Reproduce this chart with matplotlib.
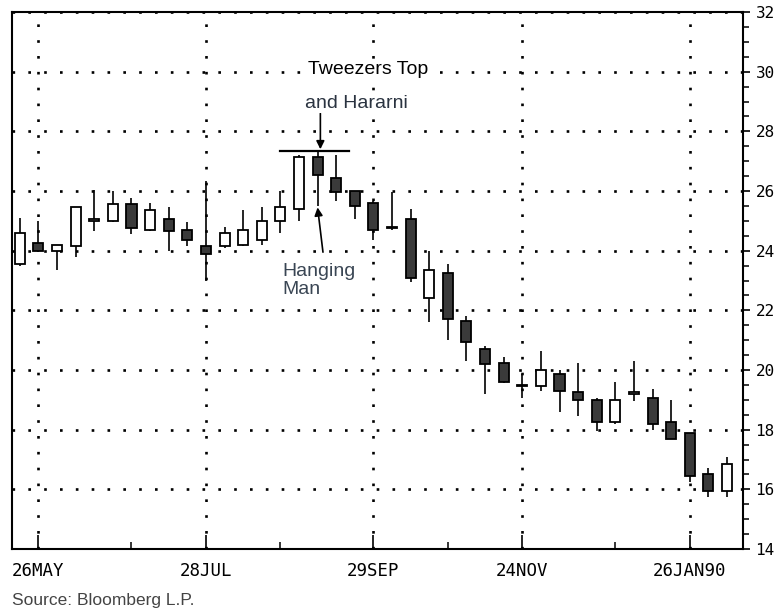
import matplotlib
matplotlib.use('Agg')
import matplotlib.pyplot as plt
import matplotlib.dates as mdates
from matplotlib.patches import Rectangle
from matplotlib.ticker import MultipleLocator
import pandas as pd

# ---- data (weekly candles, week ending Friday) ----
first_week = '1989-05-19'
opens  = [23.55, 24.25, 24.00, 24.15, 25.00, 25.00, 25.55, 24.70, 25.05, 24.70,
          24.15, 24.15, 24.20, 24.35, 25.00, 25.40, 27.15, 26.45, 26.00, 25.60,
          24.80, 25.05, 22.40, 23.25, 21.65, 20.70, 20.25, 19.50, 19.45, 19.85,
          19.25, 19.00, 18.25, 19.20, 19.05, 18.25, 17.90, 16.50, 15.95]
highs  = [25.10, 25.00, 24.20, 25.45, 26.05, 26.00, 25.75, 25.60, 25.45, 24.95,
          26.35, 24.80, 25.35, 25.45, 26.00, 27.20, 27.35, 27.20, 26.00, 25.65,
          25.95, 25.40, 24.00, 23.55, 21.80, 20.80, 20.45, 19.85, 20.65, 20.00,
          20.25, 19.05, 19.60, 20.30, 19.35, 19.00, 17.90, 16.70, 17.10]
lows   = [23.50, 23.95, 23.35, 23.80, 24.65, 24.95, 24.55, 24.65, 24.00, 24.15,
          23.00, 24.10, 24.15, 24.20, 24.60, 25.00, 25.50, 25.65, 25.05, 24.35,
          24.70, 22.95, 21.60, 21.00, 20.30, 19.20, 19.55, 19.05, 19.30, 18.60,
          18.45, 17.95, 18.20, 18.95, 18.00, 17.70, 16.25, 15.75, 15.75]
closes = [24.60, 24.00, 24.20, 25.45, 25.05, 25.55, 24.75, 25.35, 24.65, 24.35,
          23.90, 24.60, 24.70, 25.00, 25.45, 27.15, 26.55, 25.95, 25.50, 24.70,
          24.75, 23.10, 23.35, 21.70, 20.95, 20.20, 19.60, 19.45, 20.00, 19.30,
          19.00, 18.25, 19.00, 19.25, 18.20, 17.70, 16.45, 15.95, 16.85]

major_tick_dates  = ['1989-05-26', '1989-07-28', '1989-09-29', '1989-11-24', '1990-01-26']
major_tick_labels = ['26MAY', '28JUL', '29SEP', '24NOV', '26JAN90']
minor_tick_dates  = ['1989-06-30', '1989-08-25', '1989-10-27', '1989-12-29']
y_ticks = [14, 16, 18, 20, 22, 24, 26, 28, 30, 32]

dates = pd.date_range(first_week, periods=len(opens), freq='7D')
xs = mdates.date2num(dates)
x0 = xs[0]
wk = 7.0

W, H = 778, 612
fig = plt.figure(figsize=(W / 100, H / 100), dpi=100)
ax = fig.add_axes([12 / W, 1 - 549 / H, (743 - 12) / W, (549 - 12) / H])

ax.set_xlim(x0 - 0.42 * wk, x0 + 38.86 * wk)
ax.set_ylim(14, 32)

# grid
dot = (0, (1, 5))
ax.set_xticks(mdates.date2num(pd.to_datetime(major_tick_dates)))
ax.set_xticklabels(major_tick_labels)
ax.set_xticks(mdates.date2num(pd.to_datetime(minor_tick_dates)), minor=True)
ax.set_yticks(y_ticks)
ax.yaxis.set_minor_locator(MultipleLocator(0.5))
ax.grid(which='major', linestyle=dot, linewidth=1.9, color='black', zorder=1)
ax.set_axisbelow(True)

ax.yaxis.tick_right()
ax.tick_params(axis='y', which='major', direction='out', length=5, width=1.2,
               pad=4, labelsize=11.5, left=False, right=True)
ax.tick_params(axis='y', which='minor', direction='out', length=4, width=1.1,
               left=False, right=True)
ax.tick_params(axis='x', which='major', direction='in', length=10, width=1.2,
               pad=9, labelsize=12.5)
ax.tick_params(axis='x', which='minor', direction='in', length=5, width=1.1)
for lab in ax.get_xticklabels() + ax.get_yticklabels():
    lab.set_family('DejaVu Sans Mono')
for s in ax.spines.values():
    s.set_linewidth(1.5)

# candles
body_w = 0.54 * wk
ax.vlines(xs, lows, highs, color='black', linewidth=1.2, zorder=3)
for xi, o, c in zip(xs, opens, closes):
    lo = min(o, c)
    h = max(abs(c - o), 0.05)
    up = c >= o
    ax.add_patch(Rectangle((xi - body_w / 2, lo), body_w, h,
                           facecolor='white' if up else '#3a3a3a',
                           edgecolor='black', linewidth=1.3, zorder=4))

# annotations
ax.plot([x0 + 14.0 * wk, x0 + 17.7 * wk], [27.35, 27.35], color='black',
        linewidth=1.6, zorder=5)
ax.annotate('', xy=(x0 + 16.15 * wk, 27.4), xytext=(x0 + 16.15 * wk, 28.6),
            arrowprops=dict(arrowstyle='-|>', color='black', lw=1.2,
                            mutation_scale=12, shrinkA=0, shrinkB=0), zorder=6)
ax.annotate('', xy=(x0 + 16.0 * wk, 25.45), xytext=(x0 + 16.29 * wk, 23.95),
            arrowprops=dict(arrowstyle='-|>', color='black', lw=1.2,
                            mutation_scale=12, shrinkA=0, shrinkB=0), zorder=6)

bb = dict(facecolor='white', edgecolor='none', pad=1)
fig.text(308 / W, 1 - 70 / H, 'Tweezers Top', fontsize=14, family='Liberation Sans',
         ha='left', va='center', color='black', bbox=bb)
fig.text(305 / W, 1 - 103 / H, 'and Hararni', fontsize=14, family='Liberation Sans',
         ha='left', va='center', color='#2a3340', bbox=bb)
fig.text(282 / W, 1 - 272 / H, 'Hanging', fontsize=14, family='Liberation Sans',
         ha='left', va='center', color='#3a4654')
fig.text(282 / W, 1 - 290 / H, 'Man', fontsize=14, family='Liberation Sans',
         ha='left', va='center', color='#3a4654')
fig.text(12 / W, 1 - 600 / H, 'Source: Bloomberg L.P.', fontsize=12.5,
         family='Liberation Sans', ha='left', va='center', color='#444444')

fig.savefig('out.png', dpi=100)
